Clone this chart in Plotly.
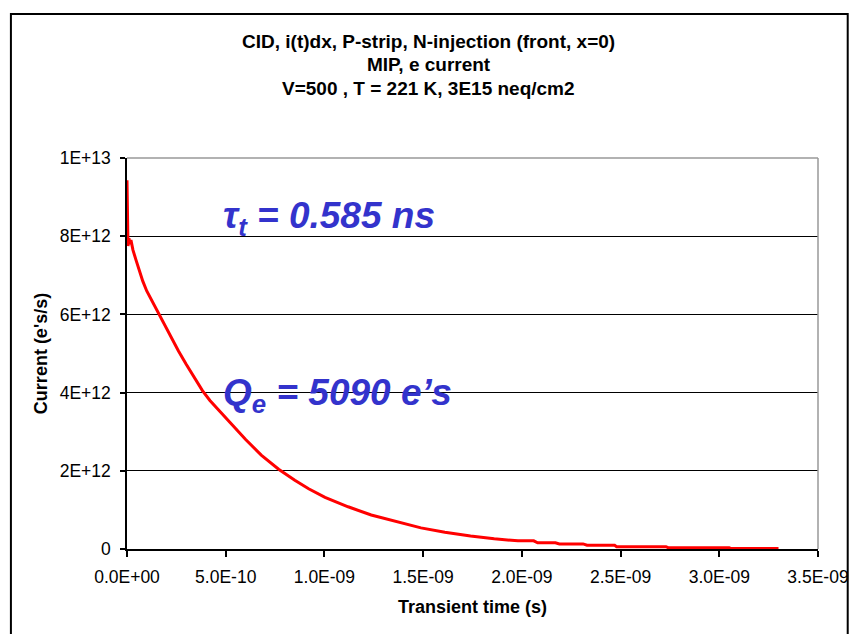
import plotly.graph_objects as go

# ---- data ----
time_ns = [0.000, 0.003, 0.005, 0.010, 0.015, 0.020, 0.030, 0.045, 0.060, 0.080,
           0.100, 0.131, 0.164, 0.190, 0.215, 0.260, 0.299, 0.340, 0.382, 0.420,
           0.466, 0.520, 0.567, 0.601, 0.680, 0.768, 0.850, 0.920, 1.003, 1.120,
           1.237, 1.360, 1.489, 1.610, 1.740, 1.860, 1.980, 2.060, 2.080, 2.170,
           2.190, 2.310, 2.330, 2.470, 2.480, 2.730, 2.740, 3.050, 3.060, 3.300]
current_1e12 = [9.43, 8.30, 7.75, 7.95, 7.80, 7.90, 7.65, 7.40, 7.15, 6.85,
                6.60, 6.30, 5.98, 5.72, 5.47, 5.07, 4.73, 4.38, 4.05, 3.80,
                3.55, 3.25, 3.00, 2.80, 2.40, 2.04, 1.76, 1.54, 1.32, 1.08,
                0.87, 0.70, 0.54, 0.43, 0.33, 0.26, 0.21, 0.21, 0.16, 0.16,
                0.13, 0.13, 0.095, 0.095, 0.06, 0.06, 0.035, 0.035, 0.01, 0.01]

x_tick_vals = [0, 0.5e-9, 1.0e-9, 1.5e-9, 2.0e-9, 2.5e-9, 3.0e-9, 3.5e-9]
x_tick_text = ["0.0E+00", "5.0E-10", "1.0E-09", "1.5E-09", "2.0E-09", "2.5E-09", "3.0E-09", "3.5E-09"]
y_tick_vals = [0, 2e12, 4e12, 6e12, 8e12, 1e13]
y_tick_text = ["0", "2E+12", "4E+12", "6E+12", "8E+12", "1E+13"]

title_lines = ["CID, i(t)dx, P-strip, N-injection (front, x=0)",
               "MIP, e current",
               "V=500 , T = 221 K, 3E15 neq/cm2"]
x_title = "Transient time (s)"
y_title = "Current (e's/s)"
tau_text = "<b><i>τ<sub>t</sub> = 0.585 ns</i></b>"
q_text = "<b><i>Q<sub>e</sub> = 5090 e’s</i></b>"

t_s = [t * 1e-9 for t in time_ns]
cur = [c * 1e12 for c in current_1e12]

FONT = "Arial, Liberation Sans, sans-serif"
BLUE = "#3333CC"

fig = go.Figure()
fig.add_trace(go.Scatter(x=t_s, y=cur, mode="lines",
                         line=dict(color="#FF0000", width=3),
                         showlegend=False, hoverinfo="skip"))

fig.update_layout(
    width=861, height=634, autosize=False,
    margin=dict(l=127, r=38, t=158, b=85),
    paper_bgcolor="white", plot_bgcolor="white",
    font=dict(family=FONT, color="black"),
    showlegend=False,
)

fig.update_xaxes(range=[0, 3.5e-9], tickvals=x_tick_vals, ticktext=x_tick_text,
                 showgrid=False, zeroline=False,
                 showline=True, linecolor="black", linewidth=1.5,
                 ticks="outside", ticklen=6, tickcolor="black", tickwidth=1.5,
                 ticklabelstandoff=5,
                 tickfont=dict(family=FONT, size=17.5, color="black"))
fig.update_yaxes(range=[0, 1e13], tickvals=y_tick_vals, ticktext=y_tick_text,
                 showgrid=True, gridcolor="black", gridwidth=1.3, zeroline=False,
                 showline=True, linecolor="black", linewidth=1.5,
                 ticks="outside", ticklen=5, tickcolor="black", tickwidth=1.5,
                 ticklabelstandoff=6,
                 tickfont=dict(family=FONT, size=17.5, color="black"))

# plot-area grey border (top & right) and outer chart border
fig.add_shape(type="line", xref="paper", yref="paper", x0=0, x1=1, y0=1, y1=1,
              line=dict(color="#999999", width=1.5), layer="above")
fig.add_shape(type="line", xref="paper", yref="paper", x0=1, x1=1, y0=0, y1=1,
              line=dict(color="#999999", width=1.5), layer="above")
fig.add_shape(type="rect", xref="paper", yref="paper",
              x0=-0.168, x1=1.043, y0=-0.27, y1=1.368,
              line=dict(color="black", width=2), layer="above")

title_y = [1.299, 1.240, 1.179]
for txt, yy in zip(title_lines, title_y):
    fig.add_annotation(text="<b>" + txt + "</b>", xref="paper", yref="paper",
                       x=0.4368, y=yy, xanchor="center", yanchor="middle",
                       showarrow=False, font=dict(family=FONT, size=19, color="black"))

fig.add_annotation(text="<b>" + x_title + "</b>", xref="paper", yref="paper",
                   x=0.5, y=-0.148, xanchor="center", yanchor="middle",
                   showarrow=False, font=dict(family=FONT, size=18, color="black"))
fig.add_annotation(text="<b>" + y_title + "</b>", xref="paper", yref="paper",
                   x=-0.125, y=0.5, xanchor="center", yanchor="middle", textangle=-90,
                   showarrow=False, font=dict(family=FONT, size=18, color="black"))

fig.add_annotation(text=tau_text, xref="paper", yref="paper",
                   x=0.1365, y=0.8465, xanchor="left", yanchor="middle",
                   showarrow=False, font=dict(family=FONT, size=37, color=BLUE))
fig.add_annotation(text=q_text, xref="paper", yref="paper",
                   x=0.1365, y=0.394, xanchor="left", yanchor="middle",
                   showarrow=False, font=dict(family=FONT, size=37, color=BLUE))

fig.write_html("out.html")
